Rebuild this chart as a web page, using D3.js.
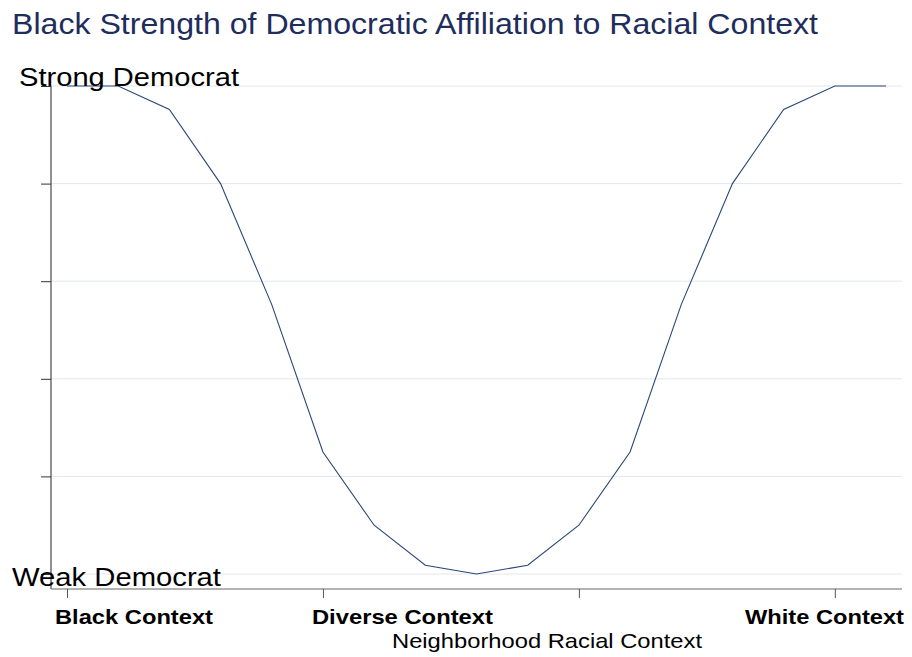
<!DOCTYPE html>
<html>
<head>
<meta charset="utf-8">
<script src="https://cdn.jsdelivr.net/npm/d3@7/dist/d3.min.js"></script>
<style>
  body { margin: 0; background: #fff; }
  svg { display: block; font-family: "Liberation Sans", Arial, sans-serif; }
</style>
</head>
<body>
<svg id="chart" width="912" height="657"></svg>
<script>
// data
const steps = d3.range(0, 17);           // positions along racial context
const strength = [5, 5, 4.76, 4.0, 2.76, 1.25, 0.5, 0.09, 0, 0.09, 0.5, 1.25, 2.76, 4.0, 4.76, 5, 5];
const xTicks = [0, 5, 10, 15];
const yTicks = [0, 1, 2, 3, 4, 5];
const xTickLabels = ["Black Context", "Diverse Context", "White Context"];
const yEndLabels = ["Weak Democrat", "Strong Democrat"];

const svg = d3.select("#chart");
const x = d3.scaleLinear().domain([0, 16]).range([67, 886]);
const y = d3.scaleLinear().domain([0, 5]).range([574, 86]);
const left = 51, right = 902, axisY = 589;

// title
svg.append("text")
  .attr("x", 12).attr("y", 34)
  .attr("font-size", 30)
  .attr("fill", "#1e2d5c")
  .attr("textLength", 806).attr("lengthAdjust", "spacingAndGlyphs")
  .text("Black Strength of Democratic Affiliation to Racial Context");

// gridlines
svg.append("g").selectAll("line").data(yTicks).join("line")
  .attr("x1", left).attr("x2", right)
  .attr("y1", d => y(d)).attr("y2", d => y(d))
  .attr("stroke", "#e3e6f0").attr("stroke-width", 1);

// y axis
const yAxis = svg.append("g").attr("transform", `translate(${left},0)`)
  .call(d3.axisLeft(y).tickValues(yTicks).tickFormat("").tickSize(10).tickSizeOuter(0));
yAxis.select(".domain").attr("stroke", "#222").attr("d", `M0,${y(5)}V${axisY}`);
yAxis.selectAll(".tick line").attr("stroke", "#333");

// x axis
const xAxis = svg.append("g").attr("transform", `translate(0,${axisY})`)
  .call(d3.axisBottom(x).tickValues(xTicks).tickFormat("").tickSize(9).tickSizeOuter(0));
xAxis.select(".domain").attr("stroke", "#666").attr("stroke-width", 1.2).attr("d", `M${left},0H${right}`);
xAxis.selectAll(".tick line").attr("stroke", "#555");

// line
svg.append("path")
  .datum(steps)
  .attr("fill", "none")
  .attr("stroke", "#2a4678")
  .attr("stroke-width", 1.1)
  .attr("d", d3.line().x(d => x(d)).y(d => y(strength[d])));

// y end labels
svg.append("text").attr("x", 19).attr("y", y(5))
  .attr("font-size", 25).attr("fill", "#000")
  .attr("textLength", 220).attr("lengthAdjust", "spacingAndGlyphs")
  .text(yEndLabels[1]);
svg.append("text").attr("x", 12).attr("y", 586)
  .attr("font-size", 25).attr("fill", "#000")
  .attr("textLength", 209).attr("lengthAdjust", "spacingAndGlyphs")
  .text(yEndLabels[0]);

// x tick labels
const lab = svg.append("g").attr("font-size", 21).attr("font-weight", "bold").attr("fill", "#000");
lab.append("text").attr("x", x(0) - 12).attr("y", 624)
  .attr("textLength", 158).attr("lengthAdjust", "spacingAndGlyphs").text(xTickLabels[0]);
lab.append("text").attr("x", x(5) - 11).attr("y", 624)
  .attr("textLength", 181).attr("lengthAdjust", "spacingAndGlyphs").text(xTickLabels[1]);
lab.append("text").attr("x", 745).attr("y", 624)
  .attr("textLength", 159).attr("lengthAdjust", "spacingAndGlyphs").text(xTickLabels[2]);

// x axis title
svg.append("text").attr("x", 392).attr("y", 648)
  .attr("font-size", 21).attr("fill", "#000")
  .attr("textLength", 310).attr("lengthAdjust", "spacingAndGlyphs")
  .text("Neighborhood Racial Context");
</script>
</body>
</html>
